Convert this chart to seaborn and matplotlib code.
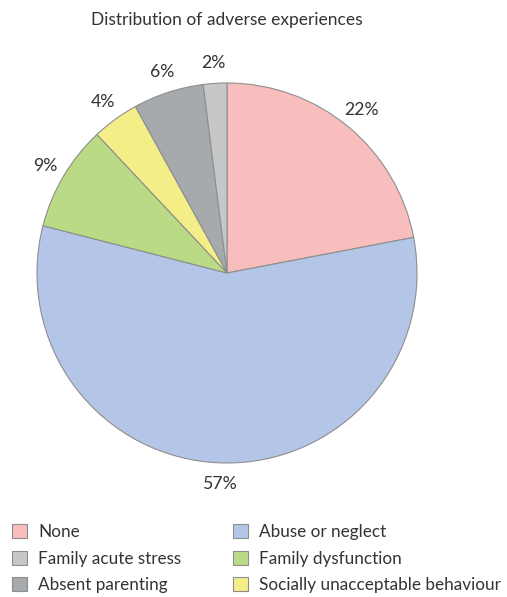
import matplotlib as mpl
mpl.use('Agg')
import matplotlib.pyplot as plt
import seaborn as sns

categories = ['None', 'Abuse or neglect', 'Family dysfunction',
              'Socially unacceptable behaviour', 'Absent parenting',
              'Family acute stress']
shares = [22, 57, 9, 4, 6, 2]
colors = ['#F8BDBD', '#B4C6E7', '#BBDA85', '#F3EE88', '#A7AAAD', '#C6C7C9']
legend_order = ['None', 'Family acute stress', 'Absent parenting',
                'Abuse or neglect', 'Family dysfunction',
                'Socially unacceptable behaviour']

sns.set_theme(style='white')
plt.rcParams['font.family'] = ['Lato', 'DejaVu Sans']
text_col = '#333333'

fig = plt.figure(figsize=(5.07, 5.97), dpi=100)
ax = fig.add_axes([(227 - 190) / 507, (597 - 463) / 597, 380 / 507, 380 / 597])

wedges, texts, autotexts = ax.pie(
    shares, colors=colors, startangle=90, counterclock=False,
    autopct='%d%%', pctdistance=1.11,
    wedgeprops=dict(edgecolor='#8E8E8E', linewidth=0.8),
    textprops=dict(color=text_col, fontsize=12.7))
ax.set_xlim(-1, 1)
ax.set_ylim(-1, 1)
ax.set_aspect('equal')

fig.text(227 / 507, 1 - 20 / 597, 'Distribution of adverse experiences',
         ha='center', va='center', fontsize=12.5, color=text_col)

handle_map = dict(zip(categories, wedges))
handles = [handle_map[c] for c in legend_order]
leg = fig.legend(handles, legend_order, ncol=2, frameon=False,
                 loc='upper left', bbox_to_anchor=(0.024, 1 - 524 / 597),
                 fontsize=12.3, handlelength=0.88, handleheight=0.88,
                 handletextpad=0.65, labelspacing=0.62, columnspacing=3.0,
                 borderpad=0, borderaxespad=0)
for t in leg.get_texts():
    t.set_color(text_col)

fig.savefig('out.png', dpi=100)
